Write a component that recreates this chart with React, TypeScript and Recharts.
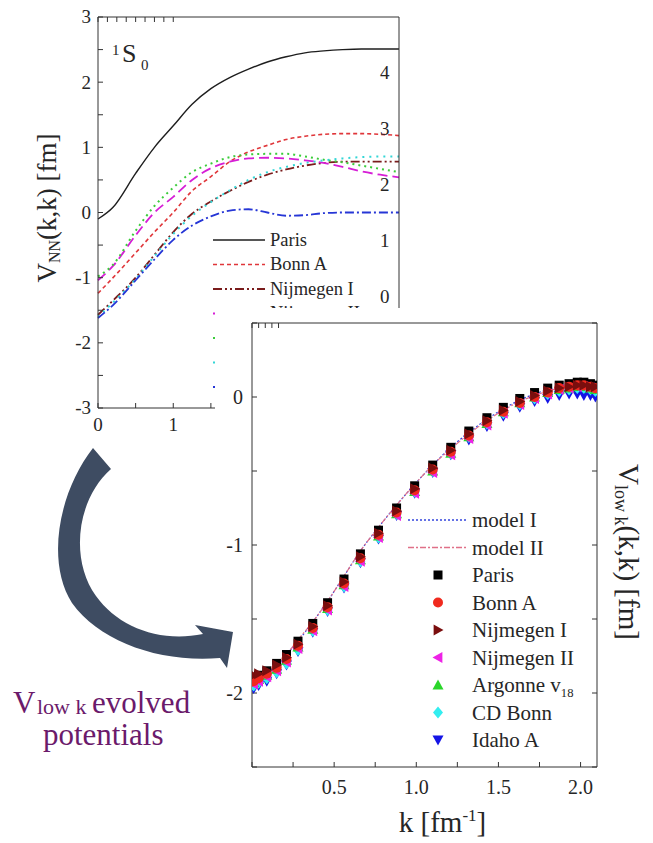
import React from "react";
import { ComposedChart, Legend, Line, LineChart, Scatter, XAxis, YAxis } from "recharts";

const SERIF = '"Liberation Serif", "Times New Roman", serif';
const INK = "#262626";

// upper panel: bare 1S0 potentials V_NN(k,k)
const kBare = [0, 0.2, 0.5, 0.75, 1, 1.25, 1.5, 1.75, 2, 2.25, 2.5, 2.75, 3, 3.25, 3.5, 3.75, 4];
const parisBare = [-0.1, 0.08, 0.6, 1.0, 1.33, 1.66, 1.9, 2.07, 2.2, 2.31, 2.39, 2.45, 2.48, 2.5, 2.51, 2.51, 2.51];
const bonnABare = [-1.24, -1.0, -0.62, -0.3, 0.0, 0.33, 0.55, 0.78, 0.93, 1.03, 1.12, 1.17, 1.2, 1.21, 1.21, 1.2, 1.18];
const nijIBare = [-1.57, -1.35, -1.0, -0.65, -0.3, -0.02, 0.17, 0.33, 0.47, 0.58, 0.66, 0.72, 0.76, 0.78, 0.78, 0.78, 0.78];
const nijIIBare = [-1.04, -0.82, -0.35, 0.0, 0.24, 0.5, 0.68, 0.78, 0.83, 0.84, 0.83, 0.8, 0.76, 0.7, 0.63, 0.58, 0.54];
const argonneBare = [-0.98, -0.8, -0.28, 0.1, 0.38, 0.62, 0.75, 0.85, 0.89, 0.9, 0.9, 0.86, 0.81, 0.77, 0.72, 0.67, 0.62];
const cdBonnBare = [-1.6, -1.38, -1.02, -0.67, -0.33, -0.05, 0.16, 0.34, 0.5, 0.62, 0.7, 0.76, 0.8, 0.83, 0.85, 0.86, 0.86];
const idahoBare = [-1.62, -1.42, -1.04, -0.72, -0.42, -0.2, -0.06, 0.03, 0.05, 0.0, -0.05, -0.04, -0.01, 0.0, 0.0, 0.0, 0.0];

const bareXTicks = [0, 0.5, 1, 1.5, 2, 2.5, 3, 3.5, 4];
const bareYTicks = [-3, -2.5, -2, -1.5, -1, -0.5, 0, 0.5, 1, 1.5, 2, 2.5, 3];
const rightLabels = [0, 1, 2, 3, 4];

// lower panel: V_low k(k,k)
const kLow = [0.01, 0.04, 0.09, 0.15, 0.21, 0.28, 0.37, 0.46, 0.56, 0.66, 0.77, 0.88, 0.99, 1.1, 1.21, 1.32, 1.43, 1.53, 1.63, 1.72, 1.8, 1.87, 1.93, 1.98, 2.02, 2.06, 2.09];
const modelI = [-1.92, -1.9, -1.86, -1.81, -1.74, -1.65, -1.52, -1.38, -1.21, -1.04, -0.88, -0.73, -0.59, -0.46, -0.34, -0.24, -0.15, -0.08, -0.02, 0.02, 0.05, 0.07, 0.08, 0.08, 0.08, 0.07, 0.06];
const modelII = [-1.91, -1.89, -1.86, -1.81, -1.74, -1.64, -1.52, -1.38, -1.21, -1.04, -0.88, -0.73, -0.59, -0.46, -0.35, -0.25, -0.16, -0.09, -0.03, 0.01, 0.04, 0.06, 0.07, 0.08, 0.08, 0.08, 0.07];
const parisLow = [-1.9, -1.88, -1.85, -1.8, -1.74, -1.65, -1.53, -1.39, -1.23, -1.06, -0.9, -0.75, -0.6, -0.46, -0.34, -0.23, -0.14, -0.07, -0.01, 0.03, 0.06, 0.08, 0.09, 0.1, 0.1, 0.09, 0.08];
const bonnALow = [-1.92, -1.9, -1.87, -1.83, -1.77, -1.68, -1.56, -1.42, -1.26, -1.09, -0.93, -0.78, -0.63, -0.49, -0.37, -0.26, -0.17, -0.1, -0.04, 0.0, 0.03, 0.06, 0.07, 0.08, 0.08, 0.07, 0.06];
const nijILow = [-1.88, -1.87, -1.85, -1.81, -1.76, -1.67, -1.55, -1.41, -1.25, -1.08, -0.92, -0.77, -0.62, -0.48, -0.36, -0.25, -0.16, -0.09, -0.03, 0.01, 0.04, 0.06, 0.07, 0.08, 0.08, 0.07, 0.07];
const nijIILow = [-1.94, -1.92, -1.89, -1.85, -1.79, -1.7, -1.58, -1.44, -1.28, -1.11, -0.95, -0.8, -0.65, -0.51, -0.39, -0.28, -0.19, -0.11, -0.05, -0.01, 0.02, 0.05, 0.06, 0.07, 0.07, 0.06, 0.05];
const argonneLow = [-1.93, -1.91, -1.88, -1.84, -1.78, -1.69, -1.57, -1.43, -1.27, -1.1, -0.94, -0.79, -0.64, -0.5, -0.38, -0.27, -0.18, -0.1, -0.04, 0.0, 0.03, 0.05, 0.06, 0.07, 0.07, 0.06, 0.05];
const cdBonnLow = [-1.95, -1.93, -1.9, -1.86, -1.8, -1.71, -1.58, -1.44, -1.28, -1.11, -0.95, -0.79, -0.64, -0.5, -0.38, -0.27, -0.18, -0.11, -0.05, -0.01, 0.02, 0.04, 0.05, 0.06, 0.06, 0.05, 0.04];
const idahoLow = [-1.97, -1.95, -1.92, -1.87, -1.81, -1.72, -1.59, -1.45, -1.29, -1.12, -0.96, -0.8, -0.65, -0.51, -0.39, -0.29, -0.2, -0.13, -0.07, -0.03, -0.01, 0.01, 0.02, 0.02, 0.01, 0.01, 0.0];

const lowXTicks = [0, 0.25, 0.5, 0.75, 1, 1.25, 1.5, 1.75, 2];
const lowYTicks = [-2.5, -2, -1.5, -1, -0.5, 0, 0.5];

const bareData = kBare.map((k, i) => ({
  k,
  paris: parisBare[i],
  bonnA: bonnABare[i],
  nijI: nijIBare[i],
  nijII: nijIIBare[i],
  argonne: argonneBare[i],
  cdBonn: cdBonnBare[i],
  idaho: idahoBare[i],
}));

const bareLines = [
  { key: "paris", name: "Paris", color: "#1e1e1e", dash: undefined, w: 1.4 },
  { key: "bonnA", name: "Bonn A", color: "#e0363a", dash: "4 3", w: 1.6 },
  { key: "nijI", name: "Nijmegen I", color: "#7a1c1c", dash: "9 3 2 3 2 3", w: 1.8 },
  { key: "nijII", name: "Nijmegen II", color: "#d61ed6", dash: "10 5", w: 1.8 },
  { key: "argonne", name: "Argonne v18", color: "#3acc3a", dash: "2 4", w: 2 },
  { key: "cdBonn", name: "CD Bonn", color: "#33d6d6", dash: "2 5", w: 2 },
  { key: "idaho", name: "Idaho A", color: "#2636d6", dash: "9 3 2 3", w: 1.8 },
];

const modelData = kLow.map((k, i) => ({ k, modelI: modelI[i], modelII: modelII[i] }));
const pts = (vals: number[]) => kLow.map((k, i) => ({ k, v: vals[i] }));

const square = (c: string) => (p: any) => (
  <rect x={p.cx - 4.5} y={p.cy - 4.5} width={9} height={9} fill={c} />
);
const circle = (c: string) => (p: any) => <circle cx={p.cx} cy={p.cy} r={5} fill={c} />;
const tri = (c: string, dir: string) => (p: any) => {
  const { cx, cy } = p;
  const s = 5.5;
  let d = "";
  if (dir === "up") d = `${cx},${cy - s} ${cx + s},${cy + s * 0.8} ${cx - s},${cy + s * 0.8}`;
  if (dir === "down") d = `${cx},${cy + s} ${cx + s},${cy - s * 0.8} ${cx - s},${cy - s * 0.8}`;
  if (dir === "right") d = `${cx + s},${cy} ${cx - s * 0.8},${cy - s} ${cx - s * 0.8},${cy + s}`;
  if (dir === "left") d = `${cx - s},${cy} ${cx + s * 0.8},${cy - s} ${cx + s * 0.8},${cy + s}`;
  return <polygon points={d} fill={c} />;
};
const diamond = (c: string) => (p: any) => (
  <polygon points={`${p.cx},${p.cy - 6} ${p.cx + 5},${p.cy} ${p.cx},${p.cy + 6} ${p.cx - 5},${p.cy}`} fill={c} />
);

const lowSeries = [
  { name: "Paris", vals: parisLow, color: "#000000", shape: square },
  { name: "Bonn A", vals: bonnALow, color: "#f02a1e", shape: circle },
  { name: "Nijmegen I", vals: nijILow, color: "#7a0e0e", shape: (c: string) => tri(c, "right") },
  { name: "Nijmegen II", vals: nijIILow, color: "#ee22e6", shape: (c: string) => tri(c, "left") },
  { name: "Argonne v18", vals: argonneLow, color: "#2ad62a", shape: (c: string) => tri(c, "up") },
  { name: "CD Bonn", vals: cdBonnLow, color: "#33eef0", shape: diamond },
  { name: "Idaho A", vals: idahoLow, color: "#1414e6", shape: (c: string) => tri(c, "down") },
];
// back-to-front drawing order of the markers
const drawOrder = [6, 5, 4, 0, 3, 1, 2];

const nameText = (name: string, fs: number) =>
  name === "Argonne v18" ? (
    <>
      Argonne v<tspan fontSize={fs * 0.6} dy={5}>18</tspan>
    </>
  ) : (
    name
  );

const bareLegend = () => (
  <svg width={140} height={190} style={{ overflow: "visible" }}>
    {bareLines.map((l, i) => (
      <g key={l.key}>
        <line x1={8} x2={60} y1={15 + i * 24.5} y2={15 + i * 24.5} stroke={l.color} strokeWidth={l.w} strokeDasharray={l.dash} />
        <text x={65} y={15 + i * 24.5} dy="0.32em" fontFamily={SERIF} fontSize={18.5} fill={INK}>
          {nameText(l.name, 18.5)}
        </text>
      </g>
    ))}
  </svg>
);

const lowLegend = () => (
  <svg width={190} height={260} style={{ overflow: "visible" }}>
    <line x1={4} x2={62} y1={17} y2={17} stroke="#3344dd" strokeWidth={1.3} strokeDasharray="2 2" />
    <text x={68} y={17} dy="0.34em" fontFamily={SERIF} fontSize={21} fill={INK}>model I</text>
    <line x1={4} x2={62} y1={44.5} y2={44.5} stroke="#e07088" strokeWidth={1.3} strokeDasharray="6 2 2 2" />
    <text x={68} y={44.5} dy="0.34em" fontFamily={SERIF} fontSize={21} fill={INK}>model II</text>
    {lowSeries.map((s, i) => {
      const y = 72 + i * 27.5;
      return (
        <g key={s.name}>
          {s.shape(s.color)({ cx: 34, cy: y })}
          <text x={68} y={y} dy="0.34em" fontFamily={SERIF} fontSize={21} fill={INK}>
            {nameText(s.name, 21)}
          </text>
        </g>
      );
    })}
  </svg>
);

const bareYTitle = () => {
  const cx = 47;
  const cy = 208;
  return (
    <text x={cx} y={cy} transform={`rotate(-90 ${cx} ${cy})`} textAnchor="middle" dominantBaseline="central" fontFamily={SERIF} fontSize={27} fill={INK}>
      V<tspan fontSize={16} dy={7}>NN</tspan>
      <tspan fontSize={27} dy={-7}>(k,k) [fm]</tspan>
    </text>
  );
};

const waveLabel = () => (
  <text fontFamily={SERIF} fill={INK}>
    <tspan x={112} y={55} fontSize={15}>1</tspan>
    <tspan x={122} y={62} fontSize={26}>S</tspan>
    <tspan x={141} y={70} fontSize={15}>0</tspan>
  </text>
);

const lowYTitle = (p: any) => {
  const cx = (p.viewBox?.x ?? 383) + 32;
  const cy = 244;
  return (
    <text x={cx} y={cy} transform={`rotate(90 ${cx} ${cy})`} textAnchor="middle" dominantBaseline="central" fontFamily={SERIF} fontSize={29} fill={INK}>
      V<tspan fontSize={18} dy={8}>low k</tspan>
      <tspan fontSize={29} dy={-8}>(k,k) [fm]</tspan>
    </text>
  );
};

const lowXTitle = (p: any) => {
  const vb = p.viewBox ?? { x: 37, width: 345, y: 459 };
  return (
    <text x={vb.x + vb.width / 2 + 18} y={vb.y + 65} textAnchor="middle" fontFamily={SERIF} fontSize={29} fill={INK}>
      k [fm<tspan fontSize={17} dy={-11}>-1</tspan>
      <tspan fontSize={29} dy={11}>]</tspan>
    </text>
  );
};

// tick label drawn as plain serif text at the position recharts hands over
const serifTick = (fs: number, fmt: (v: number) => string) => (p: any) => {
  const label = fmt(p.payload.value);
  if (!label) return <g />;
  const vertical = p.textAnchor !== "middle";
  return (
    <text
      x={p.x}
      y={p.y}
      textAnchor={p.textAnchor}
      dy={vertical ? "0.34em" : "0.75em"}
      fontFamily={SERIF}
      fontSize={fs}
      fill={INK}
    >
      {label}
    </text>
  );
};

const intOnly = (v: number) => (Number.isInteger(v) ? String(v) : "");
const halfOnly = (v: number) => (v > 0 && Number.isInteger(v * 2) ? v.toFixed(1) : "");

export default function App() {
  return (
    <div style={{ position: "absolute", left: 0, top: 0, width: 653, height: 843, background: "#fff", overflow: "hidden", fontFamily: SERIF }}>
      <div style={{ position: "absolute", left: 0, top: 0 }}>
        <LineChart width={410} height={440} data={bareData} margin={{ top: 16, right: 10, bottom: 0, left: 0 }}>
          <XAxis
            dataKey="k"
            type="number"
            domain={[0, 4]}
            ticks={bareXTicks}
            height={32}
            tickSize={-5}
            tickMargin={14}
            stroke="#333"
            tick={serifTick(19, intOnly)}
          />
          <XAxis
            xAxisId="top"
            orientation="top"
            type="number"
            domain={[0, 4]}
            allowDataOverflow
            ticks={bareXTicks}
            tickFormatter={() => ""}
            height={1}
            tickSize={-5}
            stroke="#333"
            label={waveLabel}
          />
          <YAxis
            type="number"
            domain={[-3, 3]}
            ticks={bareYTicks}
            width={98}
            tickSize={-5}
            tickMargin={12}
            stroke="#333"
            tick={serifTick(19, intOnly)}
            label={bareYTitle}
          />
          <YAxis
            yAxisId="right"
            orientation="right"
            type="number"
            domain={[-2, 5]}
            allowDataOverflow
            ticks={rightLabels}
            width={1}
            tickLine={false}
            tickSize={0}
            tickMargin={-19}
            stroke="#333"
            tick={serifTick(19, (v) => String(v))}
          />
          {bareLines.map((l) => (
            <Line
              key={l.key}
              dataKey={l.key}
              name={l.name}
              type="monotone"
              stroke={l.color}
              strokeWidth={l.w}
              strokeDasharray={l.dash}
              dot={false}
              isAnimationActive={false}
            />
          ))}
          <Legend
            layout="vertical"
            align="center"
            verticalAlign="middle"
            content={bareLegend}
            wrapperStyle={{ left: 205, top: 225, width: 140, height: 190 }}
          />
        </LineChart>
      </div>

      <div style={{ position: "absolute", left: 215, top: 308, width: 438, height: 535, background: "#fff" }}>
        <ComposedChart width={438} height={535} data={modelData} margin={{ top: 14, right: 0, bottom: 0, left: 0 }}>
          <XAxis
            dataKey="k"
            type="number"
            domain={[0, 2.1]}
            allowDataOverflow
            ticks={lowXTicks}
            height={76}
            tickSize={-5}
            tickMargin={17}
            stroke="#333"
            tick={serifTick(20, halfOnly)}
            label={lowXTitle}
          />
          <XAxis
            xAxisId="top"
            orientation="top"
            type="number"
            domain={[0, 2.1]}
            allowDataOverflow
            ticks={lowXTicks}
            tickFormatter={() => ""}
            height={1}
            tickSize={-5}
            stroke="#333"
          />
          <YAxis
            type="number"
            domain={[-2.5, 0.5]}
            allowDataOverflow
            ticks={lowYTicks}
            width={37}
            tickSize={-5}
            tickMargin={14}
            stroke="#333"
            tick={serifTick(20, intOnly)}
          />
          <YAxis
            yAxisId="right"
            orientation="right"
            type="number"
            domain={[-2.5, 0.5]}
            allowDataOverflow
            ticks={lowYTicks}
            tickFormatter={() => ""}
            width={56}
            tickSize={-5}
            stroke="#333"
            label={lowYTitle}
          />
          <Line dataKey="modelI" name="model I" type="monotone" stroke="#3344dd" strokeWidth={1.2} strokeDasharray="2 2" dot={false} isAnimationActive={false} />
          <Line dataKey="modelII" name="model II" type="monotone" stroke="#e07088" strokeWidth={1.2} strokeDasharray="6 2 2 2" dot={false} isAnimationActive={false} />
          {drawOrder.map((i) => {
            const s = lowSeries[i];
            return (
              <Scatter
                key={s.name}
                name={s.name}
                data={pts(s.vals)}
                dataKey="v"
                fill={s.color}
                shape={s.shape(s.color)}
                isAnimationActive={false}
              />
            );
          })}
          <Legend
            layout="vertical"
            align="center"
            verticalAlign="middle"
            content={lowLegend}
            wrapperStyle={{ left: 189, top: 195, width: 190, height: 260 }}
          />
        </ComposedChart>
      </div>

      <svg width={653} height={843} style={{ position: "absolute", left: 0, top: 0, pointerEvents: "none" }}>
        <path
          d="M 93 448 C 60 490, 45 560, 72 603 C 100 642, 160 663, 220 658 L 227 668 L 233 632 L 195 625 L 203 634 C 160 643, 118 627, 96 596 C 70 560, 76 500, 111 469 Z"
          fill="#3e4c62"
        />
        <text fontFamily={SERIF} fill="#6b1a6b">
          <tspan x={13} y={713} fontSize={31}>V</tspan>
          <tspan x={37} y={714} fontSize={22}>low k</tspan>
          <tspan x={92} y={713} fontSize={31}>evolved</tspan>
          <tspan x={43} y={745} fontSize={31}>potentials</tspan>
        </text>
      </svg>
    </div>
  );
}
